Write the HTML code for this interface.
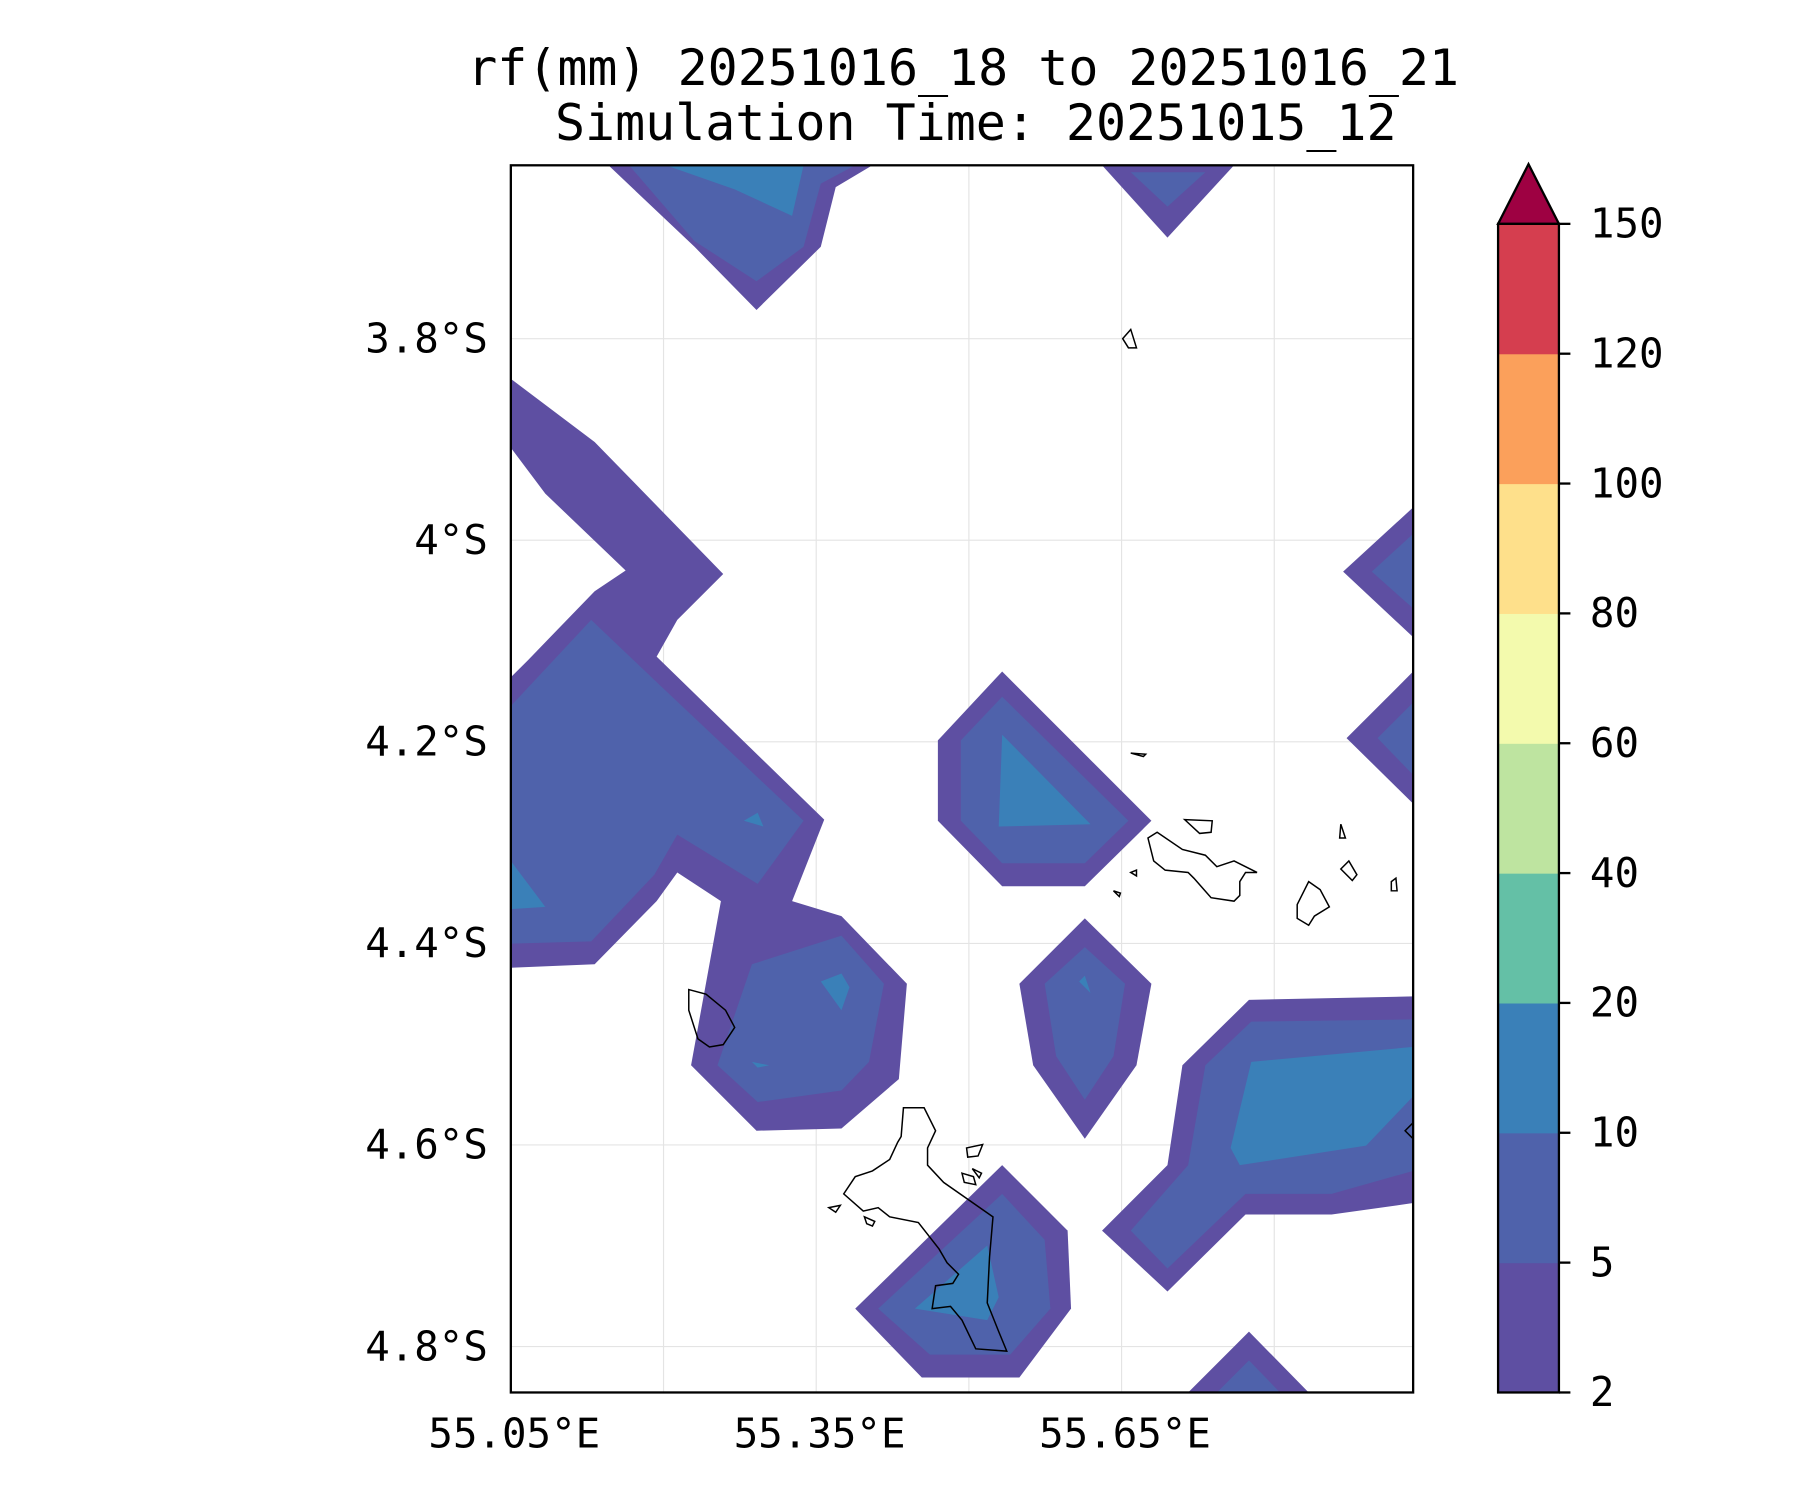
<!DOCTYPE html>
<html><head><meta charset="utf-8"><style>html,body{margin:0;background:#fff}svg{display:block}text{font-family:"DejaVu Sans Mono","Liberation Mono",monospace;fill:#000}</style></head>
<body>
<svg id="c" width="1800" height="1500" viewBox="0 0 1568 1306.67" preserveAspectRatio="none" xmlns="http://www.w3.org/2000/svg">
<text x="839" y="74" font-size="43.5" text-anchor="middle">rf(mm) 20251016_18 to 20251016_21</text>
<text x="850" y="122" font-size="43.5" text-anchor="middle">Simulation Time: 20251015_12</text>
<defs><clipPath id="clip"><rect x="445" y="144" width="786" height="1069"/></clipPath></defs>
<g id="grid"></g><g id="fills" clip-path="url(#clip)"></g><g id="coast"></g><g id="axes"></g><g id="cbar"></g>
</svg>
<script>
const levels=[2,5,10,20,40,60,80,100,120,150];
const colors=["#5e4fa2","#4f62ab","#3a80b8","#64c0a6","#bee4a0","#f3faad","#fee08b","#fba05b","#d53e4f"];
const overColor="#9e0142";
const lonTicks=[55.05,55.35,55.65];
const lonGrid=[55.2,55.35,55.5,55.65,55.8];
const latTicks=[3.8,4.0,4.2,4.4,4.6,4.8];
const latLabels=["3.8°S","4°S","4.2°S","4.4°S","4.6°S","4.8°S"];
const lonLabels=["55.05°E","55.35°E","55.65°E"];
const X=lon=>445+(lon-55.05)*886.7;
const Y=lat=>295+(lat-3.8)*878;
const regions=[
[0,"530,144 760,144 728,163 715,215 659,270 605,215"],[1,"548,144 745,144 715,160 700,215 659,245 605,210"],[2,"580,144 700,144 690,188 640,165"],
[0,"960,144 1075,144 1017,207"],[1,"985,150 1050,150 1017,180"],
[0,"445,330 518,385 630,500 590,540 572,572 718,714 690,785 733,798 790,857 783,940 733,983 659,985 602,928 628,785 590,760 572,785 518,840 445,843 445,590 460,575 518,515 545,497 475,430 445,390"],
[1,"445,615 515,540 575,597 700,715 660,770 590,727 570,762 515,820 445,822"],[1,"655,840 733,815 770,857 757,925 733,950 660,960 625,928"],
[2,"445,750 475,790 445,792"],[2,"648,715 660,708 665,720"],[2,"715,855 733,848 740,860 733,880"],[2,"655,925 670,928 660,930"],
[0,"817,645 873,585 1003,715 945,772 873,772 817,715"],[1,"837,645 873,607 983,715 945,752 873,752 837,715"],[2,"873,640 950,718 870,720"],
[0,"888,857 945,800 1003,857 990,928 945,992 900,928"],[1,"910,857 945,825 980,857 970,920 945,958 920,920"],[2,"940,855 945,850 950,865"],
[0,"1088,871 1231,868 1231,1048 1160,1058 1085,1058 1017,1125 960,1072 1017,1015 1030,928"],[1,"1090,890 1231,888 1231,1020 1160,1040 1085,1040 1017,1105 985,1072 1035,1015 1050,928"],[2,"1090,925 1231,912 1231,955 1190,998 1080,1015 1072,1000"],
[0,"745,1140 873,1015 930,1072 933,1140 888,1200 803,1200"],[1,"765,1140 873,1040 910,1080 915,1140 880,1180 810,1180"],[2,"797,1140 860,1085 870,1130 860,1150"],
[0,"1035,1213 1088,1160 1140,1213"],[1,"1060,1213 1088,1185 1115,1213"],
[0,"1170,498 1231,442 1231,555"],[1,"1195,498 1231,465 1231,530"],[0,"1173,643 1231,585 1231,700"],[1,"1200,643 1231,612 1231,675"]
];
const coasts=["787,965 805,965 815,985 808,1000 808,1015 822,1030 865,1060 862,1095 860,1135 870,1160 877,1177 850,1175 838,1150 828,1138 812,1140 815,1120 830,1118 835,1110 825,1100 818,1088 800,1065 775,1060 765,1052 752,1055 735,1040 745,1025 760,1020 775,1010 782,995 785,990",
"1000,730 1008,725 1030,740 1050,745 1060,755 1075,750 1095,760 1085,760 1080,768 1080,780 1075,785 1055,782 1040,765 1035,760 1015,758 1005,750",
"600,862 615,866 632,880 640,895 630,910 618,912 608,905 600,880","1130,788 1140,768 1150,775 1158,790 1145,798 1140,806 1130,800",
"1032,714 1056,715 1055,725 1045,726","978,295 985,287 990,303 983,303","985,656 998,657 996,659","1168,718 1172,730 1167,730","1168,757 1175,750 1182,762 1178,767",
"1212,768 1216,765 1217,776 1212,776","842,1000 856,997 852,1007 843,1008","838,1022 848,1025 850,1032 840,1030","722,1052 732,1050 728,1056","753,1060 762,1064 760,1068 755,1066",
"970,776 976,778 975,781","985,760 990,758 990,763","1224,985 1231,978 1231,992","847,1018 855,1022 853,1026"];
const NS="http://www.w3.org/2000/svg";
function mk(p,t,a){const e=document.createElementNS(NS,t);for(const k in a)e.setAttribute(k,a[k]);document.getElementById(p).appendChild(e);return e;}
lonGrid.forEach(v=>{const e=mk("grid","line",{x1:X(v),x2:X(v),y1:144,y2:1213,stroke:"#e4e4e4","stroke-width":1});

});
latTicks.forEach(v=>{const e=mk("grid","line",{x1:445,x2:1231,y1:Y(v),y2:Y(v),stroke:"#e4e4e4","stroke-width":1});

});
regions.forEach(r=>{const e=mk("fills","polygon",{points:r[1],fill:colors[r[0]]});

});
coasts.forEach(c=>{const e=mk("coast","polygon",{points:c,fill:"none",stroke:"#000","stroke-width":1.3});

});
const fr=mk("axes","rect",{x:445,y:144,width:786,height:1069,fill:"none",stroke:"#000","stroke-width":2});


latTicks.forEach((v,i)=>{const t=mk("axes","text",{x:425,y:Y(v)+12,"font-size":35.5,"text-anchor":"end"});t.textContent=latLabels[i];

});
lonTicks.forEach((v,i)=>{const t=mk("axes","text",{x:X(v)+3,y:1261,"font-size":35.5,"text-anchor":"middle"});t.textContent=lonLabels[i];

});
const cbTop=195,cbBot=1213,cx=1305,cw=53,n=levels.length-1,seg=(cbBot-cbTop)/n;
const CY=i=>cbBot-i*seg;
for(let i=0;i<n;i++){const e=mk("cbar","rect",{x:cx,y:CY(i+1),width:cw,height:seg+0.5,fill:colors[i]});

}
const tri=mk("cbar","polygon",{points:`${cx},${cbTop} ${cx+cw},${cbTop} ${cx+cw/2},143`,fill:overColor,stroke:"#000","stroke-width":2});


const cbf=mk("cbar","rect",{x:cx,y:cbTop,width:cw,height:cbBot-cbTop,fill:"none",stroke:"#000","stroke-width":2});


levels.forEach((v,i)=>{mk("cbar","line",{x1:cx+cw,x2:cx+cw+10,y1:CY(i),y2:CY(i),stroke:"#000","stroke-width":2});
const t=mk("cbar","text",{x:1385,y:CY(i)+12,"font-size":35.5});t.textContent=v;

});
</script>
</body></html>
